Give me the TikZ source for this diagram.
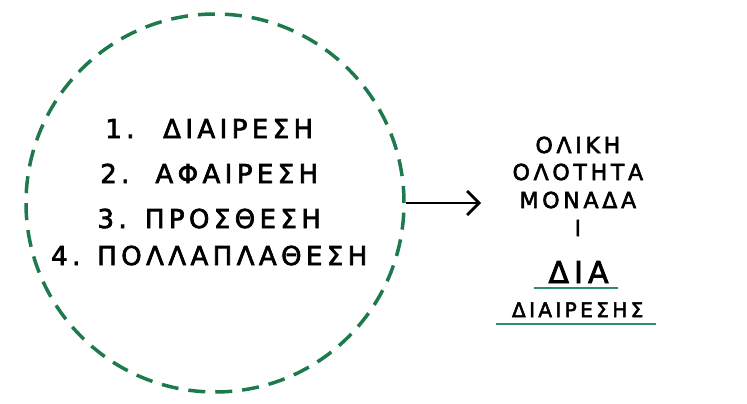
\documentclass[tikz,border=0pt]{standalone}
\usepackage{fontspec}
\usetikzlibrary{arrows.meta}
\setmainfont{DejaVu Sans}
\newfontfamily\grfont[LetterSpace=17,FakeBold=2.6]{DejaVu Sans}
\newcommand\lsfix{\kern-0.17em}
\definecolor{ringgreen}{HTML}{1E7A4C}
\definecolor{linegreen}{HTML}{2E8B6E}
\begin{document}
\begin{tikzpicture}[x=1pt,y=-1pt,
  item/.style={anchor=base,inner sep=0pt,font=\grfont\fontsize{26}{30}\selectfont},
  word/.style={anchor=base,inner sep=0pt,font=\grfont\fontsize{22}{26}\selectfont},
  rule/.style={linegreen,line width=2pt}]
\useasboundingbox (0,0) rectangle (747,404);
% left: the four operations inside the ring
\node[circle,draw=ringgreen,line width=3.5pt,dash pattern=on 17pt off 10pt,minimum size=378pt,inner sep=0pt] (ring) at (215,203) {};
\node[item] (div) at (207,138) {1.\kern1.1em ΔΙΑΙΡΕΣΗ\lsfix}; \node[item] (sub) at (207,183) {2.\kern1.0em ΑΦΑΙΡΕΣΗ\lsfix};
\node[item] (add) at (207,228) {3.\kern0.7em ΠΡΟΣΘΕΣΗ\lsfix}; \node[item] (mul) at (207,265) {4. ΠΟΛΛΑΠΛΑΘΕΣΗ\lsfix};
% right: the result column
\node[word] (whole) at (576,153) {ΟΛΙΚΗ\lsfix}; \node[word] (totality) at (576,180) {ΟΛΟΤΗΤΑ\lsfix};
\node[word] (unit) at (576,208) {ΜΟΝΑΔΑ\lsfix}; \node[word] (one) at (576,236) {Ι\lsfix};
\node[word,font=\grfont\fontsize{30}{34}\selectfont,minimum width=84pt,inner ysep=5pt] (dia) at (576,283) {ΔΙΑ\lsfix};
\node[word,font=\grfont\fontsize{20}{24}\selectfont,minimum width=160pt,inner ysep=7pt] (diaireseis) at (576,317) {ΔΙΑΙΡΕΣΗΣ\lsfix};
\draw[rule] (dia.south west) -- (dia.south east); \draw[rule] (diaireseis.south west) -- (diaireseis.south east);
\coordinate (tip) at (481,203);
\draw[line width=2.8pt,-{Straight Barb[length=12pt,width=24pt]}] (ring) -- (tip);
\end{tikzpicture}
\end{document}
